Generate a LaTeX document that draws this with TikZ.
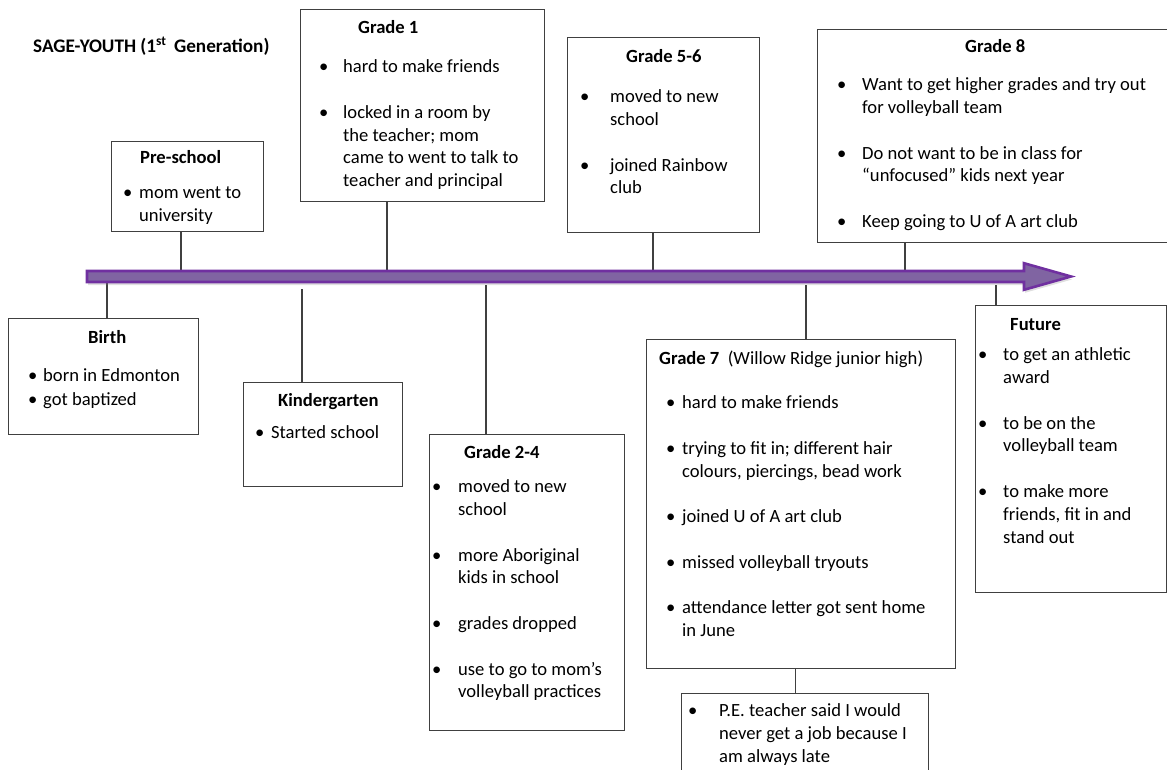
\documentclass[tikz,border=0pt]{standalone}
\usepackage{fontspec}
\setmainfont{Carlito}
\usepackage{tikz}
\usetikzlibrary{shadows}

\definecolor{tlfill}{RGB}{128,100,162}
\definecolor{tledge}{RGB}{112,48,160}
\definecolor{boxline}{RGB}{64,64,64}
\newcommand{\tlfont}{\fontsize{18.6}{22.8}\selectfont}
\newcommand{\bp}[1]{\makebox[#1][l]{\textbullet}}
\newcommand{\bs}[1]{\hspace*{#1}}

\begin{document}
\begin{tikzpicture}[x=1pt,y=-1pt,
	card/.style={draw=boxline, line width=1.2pt, anchor=north west, inner sep=0pt},
	head/.style={font=\tlfont\bfseries, anchor=base west, inner sep=0pt},
	body/.style={font=\tlfont, align=left, anchor=north west, inner sep=0pt},
	link/.style={draw=boxline, line width=1.2pt}]

		\useasboundingbox (0,0) rectangle (1167,770);
		\clip (0,0) rectangle (1167,770);

		\node[head, font=\fontsize{19.2}{23}\selectfont\bfseries] (title) at (33,53) {SAGE-YOUTH (1\textsuperscript{st}\, Generation)};

		\node[card, minimum width=152pt, minimum height=90pt] (pre) at (111,141) {};
		\node[card, minimum width=244pt, minimum height=192pt] (g1) at (300,9) {};
		\node[card, minimum width=192pt, minimum height=195pt] (g56) at (567,37) {};
		\node[card, minimum width=360pt, minimum height=213pt] (g8) at (817,29) {};
		\node[card, minimum width=190pt, minimum height=116pt] (birth) at (8,318) {};
		\node[card, minimum width=159pt, minimum height=104pt] (kg) at (243,382) {};
		\node[card, minimum width=195pt, minimum height=296pt] (g24) at (429,434) {};
		\node[card, minimum width=309pt, minimum height=329pt] (g7) at (646,339) {};
		\node[card, minimum width=247pt, minimum height=100pt] (pe) at (681,693) {};
		\node[card, minimum width=191pt, minimum height=287pt] (future) at (975,305) {};

		\coordinate (t-pre) at (181,270);
		\coordinate (t-g1) at (387,270);
		\coordinate (t-g56) at (653,270);
		\coordinate (t-g8) at (905,270);
		\coordinate (t-birth) at (107,283);
		\coordinate (t-kg) at (302,289);
		\coordinate (t-g24) at (486,285);
		\coordinate (t-g7) at (806,285);
		\coordinate (t-future) at (996,285);

		\draw[link] (pre.south -| t-pre) -- (t-pre);
		\draw[link] (g1.south -| t-g1) -- (t-g1);
		\draw[link] (g56.south -| t-g56) -- (t-g56);
		\draw[link] (g8.south -| t-g8) -- (t-g8);
		\draw[link] (t-birth) -- (birth.north -| t-birth);
		\draw[link] (t-kg) -- (kg.north -| t-kg);
		\draw[link] (t-g24) -- (g24.north -| t-g24);
		\draw[link] (t-g7) -- (g7.north -| t-g7);
		\draw[link] (t-future) -- (future.north -| t-future);
		\draw[link] ([xshift=-5.5pt]g7.south) -- ([xshift=-5.5pt]g7.south |- pe.north);

		% timeline
		\filldraw[fill=tlfill, draw=tledge, line width=2.6pt, line join=miter,
			drop shadow={opacity=0.25, shadow xshift=1pt, shadow yshift=-3pt}]
			(87,271) -- (1024,271) -- (1024,263.2) -- (1071,276.5) -- (1024,289.8) -- (1024,282) -- (87,282) -- cycle;

		\node[head] (pre-h) at (140,164) {Pre-school};
		\node[head] (g1-h) at (358,34) {Grade 1};
		\node[head] (g56-h) at (626,63) {Grade 5-6};
		\node[head] (g8-h) at (965,53) {Grade 8};
		\node[head] (birth-h) at (88,343) {Birth};
		\node[head] (kg-h) at (278,406) {Kindergarten};
		\node[head] (g24-h) at (464,458) {Grade 2-4};
		\node[head] (g7-h) at (659,364) {Grade 7\ \ \mdseries(Willow Ridge junior high)};
		\node[head] (future-h) at (1010,330) {Future};

		\node[body] (pre-t) at (123,182.5) {\strut\bp{16pt}mom went to\\\bs{16pt}university};
		\node[body] (g1-t) at (319,56.5) {\strut\bp{24pt}hard to make friends\\[22.8pt]
			\bp{24pt}locked in a room by\\\bs{24pt}the teacher; mom\\
			\bs{24pt}came to went to talk to\\\bs{24pt}teacher and principal};
		\node[body] (g56-t) at (580,86.5) {\strut\bp{30pt}moved to new\\\bs{30pt}school\\[22.8pt]
			\bp{30pt}joined Rainbow\\\bs{30pt}club};
		\node[body] (g8-t) at (837,74.5) {\strut\bp{25pt}Want to get higher grades and try out\\
			\bs{25pt}for volleyball team\\[22.8pt]
			\bp{25pt}Do not want to be in class for\\\bs{25pt}“unfocused” kids next year\\[22.8pt]
			\bp{25pt}Keep going to U of A art club};
		\node[body] (birth-t) at (28,365.5) {\strut\bp{15pt}born in Edmonton\\[1.2pt]\bp{15pt}got baptized};
		\node[body] (kg-t) at (255,422.5) {\strut\bp{16pt}Started school};
		\node[body] (g24-t) at (432,476.5) {\strut\bp{26pt}moved to new\\\bs{26pt}school\\[22.8pt]
			\bp{26pt}more Aboriginal\\\bs{26pt}kids in school\\[22.8pt]
			\bp{26pt}grades dropped\\[22.8pt]
			\bp{26pt}use to go to mom’s\\\bs{26pt}volleyball practices};
		\node[body] (g7-t) at (666,392.5) {\strut\bp{16pt}hard to make friends\\[22.8pt]
			\bp{16pt}trying to fit in; different hair\\\bs{16pt}colours, piercings, bead work\\[22.8pt]
			\bp{16pt}joined U of A art club\\[22.8pt]
			\bp{16pt}missed volleyball tryouts\\[22.8pt]
			\bp{16pt}attendance letter got sent home\\\bs{16pt}in June};
		\node[body] (pe-t) at (688,700.5) {\strut\bp{31pt}P.E. teacher said I would\\
			\bs{31pt}never get a job because I\\\bs{31pt}am always late};
		\node[body] (future-t) at (978,344.5) {\strut\bp{25pt}to get an athletic\\\bs{25pt}award\\[22.8pt]
			\bp{25pt}to be on the\\\bs{25pt}volleyball team\\[22.8pt]
			\bp{25pt}to make more\\\bs{25pt}friends, fit in and\\\bs{25pt}stand out};
	\end{tikzpicture}
\end{document}
